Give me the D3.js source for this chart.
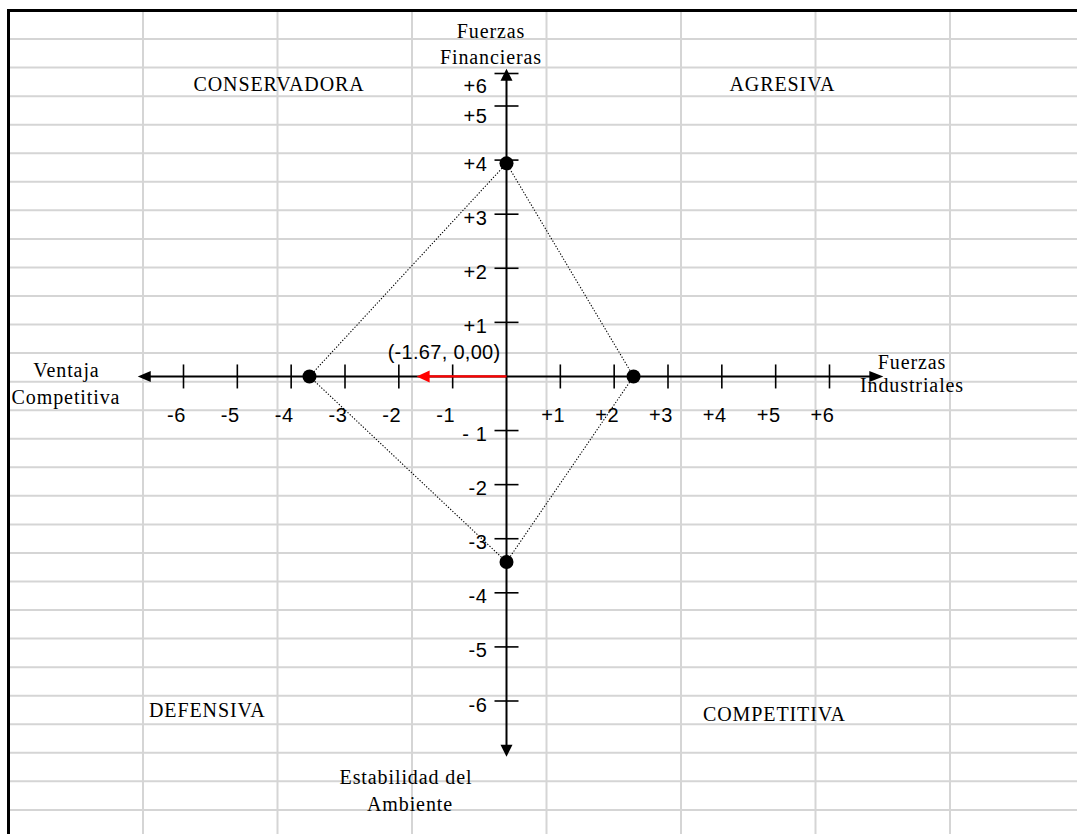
<!DOCTYPE html>
<html>
<head>
<meta charset="utf-8">
<script src="https://cdn.jsdelivr.net/npm/d3@7"></script>
<style>
  body { margin: 0; background: #fff; }
  svg { display: block; }
</style>
</head>
<body>
<svg id="chart" width="1077" height="834"></svg>
<script>
// ---- SPACE matrix data ----
// Polygon vertices, one per dimension (FF up, IF right, EE down, CA left)
const vertexNames = ["Fuerzas Financieras", "Fuerzas Industriales", "Estabilidad del Ambiente", "Ventaja Competitiva"];
const vertexX = [0, 2.36, 0, -3.66];
const vertexY = [3.94, 0, -3.43, 0];

// Resulting direction vector
const vectorX = -1.67;
const vectorY = 0.00;
const vectorLabel = "(-1.67,  0,00)";

// Tick values and labels
const xTickValues = [-6, -5, -4, -3, -2, -1, 1, 2, 3, 4, 5, 6];
const xTickLabels = ["-6", "-5", "-4", "-3", "-2", "-1", "+1", "+2", "+3", "+4", "+5", "+6"];
const yTickValues = [6, 5, 4, 3, 2, 1, -1, -2, -3, -4, -5, -6];
const yTickLabels = ["+6", "+5", "+4", "+3", "+2", "+1", "- 1", "-2", "-3", "-4", "-5", "-6"];

// Quadrant names
const quadrantNames = ["CONSERVADORA", "AGRESIVA", "DEFENSIVA", "COMPETITIVA"];

// ---- drawing ----
const W = 1077, H = 834;
const svg = d3.select("#chart");
svg.append("rect").attr("width", W).attr("height", H).attr("fill", "#fff");

// spreadsheet-style cell grid
const cellW = 134.5, cellH = 28.55;
const gridLeft = 8.5, gridTop = 10.5;
const grid = svg.append("g").attr("stroke", "#d5d5d5").attr("stroke-width", 2);
d3.range(gridLeft + cellW, W, cellW).forEach(gx => {
  grid.append("line").attr("x1", gx).attr("x2", gx).attr("y1", gridTop).attr("y2", H);
});
d3.range(gridTop + cellH, H, cellH).forEach(gy => {
  grid.append("line").attr("x1", gridLeft).attr("x2", W).attr("y1", gy).attr("y2", gy);
});
// sheet frame (top and left edges)
svg.append("path")
  .attr("d", `M${gridLeft},${H} L${gridLeft},${gridTop} L${W},${gridTop}`)
  .attr("fill", "none").attr("stroke", "#000").attr("stroke-width", 3);

// scales (top segment of the vertical axis is compressed between +5 and +6)
const x = d3.scaleLinear().domain([-6, 6]).range([183.5, 829.5]);
const y = d3.scaleLinear().domain([-6, 5, 6]).range([701, 106, 73.5]);
const xExtent = [-6.85, 7.0];
const yExtent = [-7.03, 6.15];

const x0 = x(0), y0 = y(0);

const serif = "'Liberation Serif', 'Times New Roman', serif";
const sans = "'Liberation Sans', Arial, sans-serif";

function serifText(txt, tx, ty, anchor) {
  svg.append("text")
    .attr("x", tx).attr("y", ty)
    .attr("text-anchor", anchor || "middle")
    .attr("font-family", serif).attr("font-size", 20)
    .attr("letter-spacing", "0.9px")
    .attr("fill", "#000")
    .text(txt);
}

// quadrant names
serifText(quadrantNames[0], 193.5, 91, "start");
serifText(quadrantNames[1], 729.5, 91, "start");
serifText(quadrantNames[2], 149, 717, "start");
serifText(quadrantNames[3], 703, 721, "start");

// axis titles (two lines each)
const ffWords = vertexNames[0].split(" ");
serifText(ffWords[0], 491, 37.5);
serifText(ffWords[1], 491, 63.5);
const ifWords = vertexNames[1].split(" ");
serifText(ifWords[0], 912, 368.5);
serifText(ifWords[1], 912, 392);
const eeWords = vertexNames[2].split(" ");
serifText(eeWords[0] + " " + eeWords[1], 406, 784);
serifText(eeWords[2], 410, 811);
const caWords = vertexNames[3].split(" ");
serifText(caWords[0], 66.5, 377);
serifText(caWords[1], 66, 403.5);

// dotted polygon joining the four vertices
const pts = vertexX.map((vx, i) => [x(vx), y(vertexY[i])]);
svg.append("path")
  .attr("d", d3.line()(pts.concat([pts[0]])))
  .attr("fill", "none")
  .attr("stroke", "#000")
  .attr("stroke-width", 1.1)
  .attr("stroke-dasharray", "1.3,1.7");

// arrowhead helper
function arrowHead(tipX, tipY, dx, dy, len, half, color) {
  const bx = tipX - dx * len, by = tipY - dy * len;
  const px = -dy * half, py = dx * half;
  svg.append("path")
    .attr("d", `M${tipX},${tipY} L${bx + px},${by + py} L${bx - px},${by - py} Z`)
    .attr("fill", color);
}

// axes
const axes = svg.append("g").attr("stroke", "#000").attr("stroke-width", 2);
axes.append("line")
  .attr("x1", x(xExtent[0]) + 6).attr("x2", x(xExtent[1]) - 6)
  .attr("y1", y0).attr("y2", y0);
axes.append("line")
  .attr("x1", x0).attr("x2", x0)
  .attr("y1", y(yExtent[1]) + 6).attr("y2", y(yExtent[0]) - 6);
arrowHead(x(xExtent[0]), y0, -1, 0, 13, 5.5, "#000");
arrowHead(x(xExtent[1]), y0, 1, 0, 14, 5.5, "#000");
arrowHead(x0, y(yExtent[1]), 0, -1, 12, 6, "#000");
arrowHead(x0, y(yExtent[0]), 0, 1, 12, 6, "#000");

// tick marks
axes.selectAll(".xt").data(xTickValues).enter().append("line")
  .attr("x1", d => x(d)).attr("x2", d => x(d))
  .attr("y1", y0 - 12).attr("y2", y0 + 12)
  .attr("stroke-width", 1.6);
axes.selectAll(".yt").data(yTickValues).enter().append("line")
  .attr("y1", d => y(d)).attr("y2", d => y(d))
  .attr("x1", x0 - 12).attr("x2", x0 + 12)
  .attr("stroke-width", 1.6);

// tick labels
svg.selectAll(".xl").data(xTickValues).enter().append("text")
  .attr("x", d => x(d) - 7)
  .attr("y", y0 + 46)
  .attr("text-anchor", "middle")
  .attr("font-family", sans).attr("font-size", 20)
  .attr("letter-spacing", "0.6px")
  .text((d, i) => xTickLabels[i]);
svg.selectAll(".yl").data(yTickValues).enter().append("text")
  .attr("x", x0 - 19)
  .attr("y", d => y(d) + (d === 6 ? 19 : d === 5 ? 16.5 : 10.5))
  .attr("text-anchor", "end")
  .attr("font-family", sans).attr("font-size", 20)
  .attr("letter-spacing", "0.6px")
  .text((d, i) => yTickLabels[i]);

// vertex dots
svg.selectAll(".dot").data(pts).enter().append("circle")
  .attr("cx", d => d[0]).attr("cy", d => d[1])
  .attr("r", 7).attr("fill", "#000");

// direction vector
const vx = x(vectorX), vy = y(vectorY);
svg.append("line")
  .attr("x1", x0).attr("y1", y0)
  .attr("x2", vx + 10).attr("y2", vy)
  .attr("stroke", "#ff0000").attr("stroke-width", 2.2);
arrowHead(vx, vy, -1, 0, 13, 6, "#ff0000");

svg.append("text")
  .attr("x", x0 - 6).attr("y", y0 - 17)
  .attr("text-anchor", "end")
  .attr("font-family", sans).attr("font-size", 20)
  .attr("letter-spacing", "0.3px")
  .text(vectorLabel);
</script>
</body>
</html>
